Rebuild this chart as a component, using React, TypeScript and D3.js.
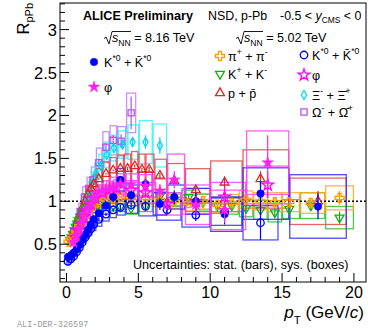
import React, { useEffect, useRef } from 'react';
import * as d3 from 'd3';

// pi+ + pi- (5.02 TeV)
const piPt = [0.15, 0.3, 0.5, 0.7, 0.9, 1.1, 1.3, 1.5, 1.7, 1.9, 2.25, 2.75, 3.25, 3.75, 4.5, 5.5, 6.5, 7.5, 8.5, 9.5, 10.5, 11.5, 12.5, 13.5, 14.5, 15.5, 17, 19];
const piVal = [0.53, 0.56, 0.6, 0.65, 0.71, 0.77, 0.83, 0.88, 0.92, 0.95, 0.99, 1.02, 1.04, 1.05, 1.05, 1.04, 1.02, 1.0, 0.98, 1.0, 0.96, 0.98, 1.02, 1.0, 0.99, 0.99, 0.98, 1.04];
const piStat = [0.01, 0.01, 0.01, 0.01, 0.01, 0.01, 0.01, 0.01, 0.01, 0.01, 0.01, 0.01, 0.01, 0.01, 0.01, 0.02, 0.02, 0.02, 0.03, 0.03, 0.03, 0.04, 0.04, 0.05, 0.05, 0.06, 0.06, 0.08];
const piSys = [0.04, 0.04, 0.04, 0.04, 0.05, 0.05, 0.05, 0.05, 0.05, 0.06, 0.06, 0.06, 0.07, 0.07, 0.07, 0.08, 0.08, 0.08, 0.09, 0.09, 0.09, 0.1, 0.1, 0.1, 0.11, 0.11, 0.12, 0.14];

// K+ + K- (5.02 TeV)
const kPt = [0.25, 0.35, 0.45, 0.55, 0.65, 0.75, 0.85, 0.95, 1.1, 1.3, 1.5, 1.7, 1.9, 2.25, 2.75, 3.25, 3.75, 4.5, 5.5, 6.5, 7.5, 8.5, 9.5, 10.5, 11.5, 12.5, 13.5, 14.5, 15.5, 17, 19];
const kVal = [0.55, 0.58, 0.62, 0.66, 0.7, 0.74, 0.78, 0.82, 0.87, 0.91, 0.94, 0.96, 0.97, 0.97, 0.96, 0.95, 0.94, 0.92, 0.95, 1.06, 1.02, 1.05, 0.99, 0.95, 0.95, 0.92, 0.9, 0.87, 0.91, 0.95, 0.81];
const kStat = [0.01, 0.01, 0.01, 0.01, 0.01, 0.01, 0.01, 0.01, 0.01, 0.01, 0.01, 0.01, 0.01, 0.01, 0.01, 0.01, 0.01, 0.02, 0.02, 0.02, 0.03, 0.03, 0.03, 0.04, 0.04, 0.04, 0.05, 0.05, 0.06, 0.06, 0.07];
const kSys = [0.05, 0.05, 0.05, 0.05, 0.05, 0.05, 0.05, 0.05, 0.06, 0.06, 0.06, 0.06, 0.06, 0.06, 0.06, 0.06, 0.06, 0.07, 0.07, 0.08, 0.08, 0.08, 0.09, 0.09, 0.1, 0.1, 0.11, 0.11, 0.11, 0.15, 0.13];

// p + pbar (5.02 TeV)
const pPt = [0.35, 0.45, 0.55, 0.65, 0.75, 0.85, 0.95, 1.1, 1.3, 1.5, 1.7, 1.9, 2.25, 2.75, 3.25, 3.75, 4.25, 4.75, 5.25, 5.75, 6.5, 7.5, 9, 11, 13.5, 17.5];
const pVal = [0.6, 0.63, 0.67, 0.71, 0.76, 0.8, 0.85, 0.92, 1.0, 1.08, 1.15, 1.2, 1.26, 1.32, 1.36, 1.38, 1.38, 1.41, 1.37, 1.37, 1.3, 1.24, 1.13, 1.22, 1.26, 1.0];
const pStat = [0.01, 0.01, 0.01, 0.01, 0.01, 0.01, 0.01, 0.01, 0.01, 0.01, 0.01, 0.01, 0.01, 0.01, 0.01, 0.01, 0.02, 0.02, 0.02, 0.03, 0.03, 0.04, 0.05, 0.07, 0.09, 0.12];
const pSys = [0.05, 0.05, 0.05, 0.05, 0.05, 0.05, 0.05, 0.07, 0.08, 0.09, 0.1, 0.11, 0.12, 0.14, 0.15, 0.16, 0.17, 0.17, 0.18, 0.18, 0.19, 0.2, 0.25, 0.25, 0.34, 0.27];

// K*0 (5.02 TeV)
const ks5Pt = [0.1, 0.3, 0.5, 0.7, 0.9, 1.1, 1.3, 1.5, 1.7, 1.9, 2.25, 2.75, 3.25, 3.75, 4.5, 5.5, 7, 9, 11, 13.5];
const ks5Val = [0.3, 0.33, 0.36, 0.41, 0.46, 0.52, 0.58, 0.63, 0.68, 0.73, 0.79, 0.85, 0.9, 0.93, 0.96, 0.94, 0.9, 0.84, 0.88, 0.75];
const ks5Stat = [0.01, 0.01, 0.01, 0.01, 0.01, 0.01, 0.01, 0.01, 0.01, 0.01, 0.02, 0.02, 0.02, 0.03, 0.03, 0.04, 0.05, 0.07, 0.1, 0.2];
const ks5Sys = [0.04, 0.04, 0.04, 0.05, 0.05, 0.05, 0.06, 0.06, 0.07, 0.07, 0.08, 0.08, 0.09, 0.09, 0.1, 0.11, 0.12, 0.14, 0.16, 0.2];

// K*0 (8.16 TeV)
const ks8Pt = [0.1, 0.3, 0.5, 0.7, 0.9, 1.1, 1.3, 1.5, 1.7, 1.9, 2.25, 2.75, 3.25, 3.75, 4.5, 5.5, 6.5, 7.5, 9, 11, 13.5, 17.5];
const ks8Val = [0.35, 0.37, 0.4, 0.44, 0.49, 0.55, 0.61, 0.67, 0.73, 0.79, 0.86, 0.95, 1.05, 1.25, 1.07, 1.2, 0.97, 1.05, 1.0, 0.85, 1.09, 0.94];
const ks8Stat = [0.01, 0.01, 0.01, 0.01, 0.01, 0.01, 0.01, 0.01, 0.01, 0.01, 0.02, 0.02, 0.03, 0.04, 0.05, 0.06, 0.07, 0.08, 0.1, 0.12, 0.15, 0.15];
const ks8Sys = [0.04, 0.04, 0.04, 0.05, 0.05, 0.06, 0.06, 0.07, 0.07, 0.08, 0.09, 0.1, 0.11, 0.13, 0.12, 0.14, 0.13, 0.14, 0.15, 0.2, 0.3, 0.37];

// phi (8.16 TeV)
const ph8Pt = [0.5, 0.7, 0.9, 1.1, 1.3, 1.5, 1.7, 1.9, 2.25, 2.75, 3.25, 3.75, 4.5, 5.5, 6.5, 7.5, 9, 11, 14];
const ph8Val = [0.52, 0.6, 0.68, 0.77, 0.85, 0.92, 0.98, 1.04, 1.1, 1.14, 1.17, 1.2, 1.2, 1.18, 1.12, 1.25, 0.96, 0.9, 1.45];
const ph8Stat = [0.01, 0.01, 0.01, 0.01, 0.01, 0.01, 0.01, 0.01, 0.02, 0.02, 0.03, 0.03, 0.04, 0.06, 0.08, 0.1, 0.1, 0.15, 0.32];
const ph8Sys = [0.04, 0.05, 0.05, 0.06, 0.06, 0.07, 0.08, 0.08, 0.09, 0.1, 0.11, 0.12, 0.12, 0.13, 0.14, 0.3, 0.23, 0.23, 0.37];

// phi (5.02 TeV)
const ph5Pt = [0.6, 0.8, 1.0, 1.2, 1.4, 1.7, 2.0, 2.5, 3.0, 3.5, 4.5, 5.5, 7, 9, 11, 14];
const ph5Val = [0.58, 0.66, 0.74, 0.82, 0.89, 0.97, 1.04, 1.1, 1.13, 1.15, 1.13, 1.1, 0.97, 1.0, 1.05, 1.19];
const ph5Stat = [0.01, 0.01, 0.01, 0.01, 0.01, 0.01, 0.02, 0.02, 0.02, 0.03, 0.04, 0.05, 0.07, 0.09, 0.12, 0.15];
const ph5Sys = [0.05, 0.05, 0.06, 0.06, 0.07, 0.08, 0.08, 0.09, 0.1, 0.1, 0.11, 0.12, 0.13, 0.15, 0.17, 0.22];

// Xi- + Xibar+ (5.02 TeV)
const xiPt = [0.8, 1.0, 1.2, 1.4, 1.6, 1.8, 2.05, 2.4, 2.8, 3.3, 3.9, 4.6, 5.5, 6.5];
const xiVal = [0.72, 0.82, 0.92, 1.02, 1.12, 1.22, 1.32, 1.41, 1.54, 1.62, 1.66, 1.69, 1.69, 1.65];
const xiStat = [0.02, 0.02, 0.02, 0.02, 0.02, 0.02, 0.02, 0.03, 0.03, 0.04, 0.05, 0.06, 0.08, 0.1];
const xiSys = [0.08, 0.09, 0.1, 0.1, 0.11, 0.12, 0.13, 0.14, 0.15, 0.15, 0.16, 0.2, 0.25, 0.25];

// Omega- + Omegabar+ (5.02 TeV)
const omPt = [0.7, 0.95, 1.25, 1.55, 1.85, 2.25, 2.75, 3.25, 3.8, 4.5];
const omVal = [0.72, 0.88, 1.05, 1.15, 1.25, 1.45, 1.63, 1.71, 1.7, 2.03];
const omStat = [0.03, 0.03, 0.03, 0.03, 0.04, 0.04, 0.05, 0.06, 0.08, 0.19];
const omSys = [0.08, 0.1, 0.12, 0.13, 0.15, 0.17, 0.18, 0.17, 0.17, 0.23];

const xTicks = [0, 5, 10, 15, 20];
const yTicks = [0.5, 1, 1.5, 2, 2.5, 3];

const FONT = '"Liberation Sans", Arial, Helvetica, sans-serif';

type Series = {
  pt: number[]; val: number[]; stat: number[]; sys: number[];
  color: string; boxColor: string; marker: string; filled: boolean;
};

const series: Series[] = [
  { pt: omPt, val: omVal, stat: omStat, sys: omSys, color: '#b650f0', boxColor: '#c27cf4', marker: 'square', filled: false },
  { pt: xiPt, val: xiVal, stat: xiStat, sys: xiSys, color: '#00d8f0', boxColor: '#3ef0f8', marker: 'diamond', filled: false },
  { pt: pPt, val: pVal, stat: pStat, sys: pSys, color: '#d82828', boxColor: '#e04a4a', marker: 'triUp', filled: false },
  { pt: kPt, val: kVal, stat: kStat, sys: kSys, color: '#10b010', boxColor: '#30c030', marker: 'triDown', filled: false },
  { pt: piPt, val: piVal, stat: piStat, sys: piSys, color: '#ff9900', boxColor: '#ffa626', marker: 'cross', filled: false },
  { pt: ks5Pt, val: ks5Val, stat: ks5Stat, sys: ks5Sys, color: '#0000ff', boxColor: '#3333ff', marker: 'circle', filled: false },
  { pt: ph5Pt, val: ph5Val, stat: ph5Stat, sys: ph5Sys, color: '#ff00ff', boxColor: '#ff40ff', marker: 'star', filled: false },
  { pt: ks8Pt, val: ks8Val, stat: ks8Stat, sys: ks8Sys, color: '#0000ff', boxColor: '#2a2aff', marker: 'circle', filled: true },
  { pt: ph8Pt, val: ph8Val, stat: ph8Stat, sys: ph8Sys, color: '#ff22ee', boxColor: '#ff44f0', marker: 'star', filled: true },
];

const markerPath = (m: string) => {
  if (m === 'diamond') return 'M0,-4.5L2.6,0L0,4.5L-2.6,0Z';
  if (m === 'circle') return d3.symbol(d3.symbolCircle, 44)() as string;
  if (m === 'star') return d3.symbol(d3.symbolStar, 42)() as string;
  if (m === 'cross') return d3.symbol(d3.symbolCross, 46)() as string;
  if (m === 'square') return d3.symbol(d3.symbolSquare, 38)() as string;
  return d3.symbol(d3.symbolTriangle, 34)() as string;
};

// rich text with sub/superscripts: [text, kind, italic]
type Part = [string, 'n' | 'sup' | 'sub', boolean?];
function rich(parent: any, x: number, y: number, parts: Part[], size: number, anchor = 'start') {
  const t = parent.append('text')
    .attr('x', x).attr('y', y)
    .attr('font-size', size)
    .attr('text-anchor', anchor)
    .style('white-space', 'pre');
  let cur = 0;
  parts.forEach(([s, kind, it]) => {
    const target = kind === 'sup' ? -size * 0.42 : kind === 'sub' ? size * 0.3 : 0;
    t.append('tspan')
      .attr('dy', target - cur)
      .attr('font-size', kind === 'n' ? size : size * 0.68)
      .attr('font-style', it ? 'italic' : null)
      .text(s);
    cur = target;
  });
  return t;
}

const App = () => {
  const ref = useRef<SVGSVGElement>(null);

  useEffect(() => {
    const width = 368;
    const height = 331;
    const margin = { top: 3, right: 2, bottom: 49, left: 60 };

    const svg = d3.select(ref.current);
    svg.selectAll('*').remove();
    svg.attr('width', width).attr('height', height).attr('font-family', FONT);

    svg.append('rect').attr('width', width).attr('height', height).attr('fill', '#fff');

    const x = d3.scaleLinear().domain([-0.45, 20.84]).range([margin.left, width - margin.right]);
    const y = d3.scaleLinear().domain([0.06, 3.31]).range([height - margin.bottom, margin.top]);

    const [x0, x1] = x.range();
    const [yb, yt] = y.range();

    svg.append('clipPath').attr('id', 'plotclip')
      .append('rect').attr('x', x0).attr('y', yt).attr('width', x1 - x0).attr('height', yb - yt);

    const plot = svg.append('g').attr('clip-path', 'url(#plotclip)');

    // bin edges from neighbouring points
    const edges = (pt: number[]) => pt.map((p, i) => {
      const lo = i > 0 ? (p + pt[i - 1]) / 2 : p - (pt[1] - p) / 2;
      const hi = i < pt.length - 1 ? (p + pt[i + 1]) / 2 : p + (p - pt[i - 1]) / 2;
      return [lo, hi];
    });

    // systematic boxes
    series.forEach(s => {
      const e = edges(s.pt);
      plot.append('g').selectAll('rect')
        .data(s.pt.map((p, i) => ({ lo: e[i][0], hi: e[i][1], v: s.val[i], sys: s.sys[i] })))
        .enter()
        .append('rect')
        .attr('x', d => x(d.lo) + 0.5)
        .attr('width', d => Math.max(1, x(d.hi) - x(d.lo) - 1))
        .attr('y', d => y(d.v + d.sys))
        .attr('height', d => y(d.v - d.sys) - y(d.v + d.sys))
        .attr('fill', 'none')
        .attr('stroke', s.boxColor)
        .attr('stroke-width', 1.3)
        .attr('opacity', 0.85);
    });

    // dotted line at unity
    plot.append('line')
      .attr('x1', x0).attr('x2', x1)
      .attr('y1', y(1)).attr('y2', y(1))
      .attr('stroke', '#000').attr('stroke-width', 1.5)
      .attr('stroke-dasharray', '2,2');

    // stat bars + markers
    series.forEach(s => {
      const pts = s.pt.map((p, i) => ({ p, v: s.val[i], st: s.stat[i] }));
      const g = plot.append('g');
      g.selectAll('line')
        .data(pts)
        .enter()
        .append('line')
        .attr('x1', d => x(d.p)).attr('x2', d => x(d.p))
        .attr('y1', d => y(d.v - d.st)).attr('y2', d => y(d.v + d.st))
        .attr('stroke', s.color).attr('stroke-width', 1.2);
      g.selectAll('path')
        .data(pts)
        .enter()
        .append('path')
        .attr('d', markerPath(s.marker))
        .attr('transform', d => `translate(${x(d.p)},${y(d.v)})${s.marker === 'triDown' ? ' rotate(180)' : ''}`)
        .attr('fill', s.filled ? s.color : 'none')
        .attr('stroke', s.color)
        .attr('stroke-width', s.filled ? 0.5 : 1.3);
    });

    // frame
    svg.append('rect')
      .attr('x', x0).attr('y', yt)
      .attr('width', x1 - x0).attr('height', yb - yt)
      .attr('fill', 'none').attr('stroke', '#000').attr('stroke-width', 1);

    // y ticks
    const yMinor = d3.range(1, 34).map(i => i / 10).filter(v => v < 3.31);
    svg.append('g').selectAll('line')
      .data(yMinor)
      .enter()
      .append('line')
      .attr('x1', x0)
      .attr('x2', v => x0 + (Math.abs(v * 2 - Math.round(v * 2)) < 1e-6 ? 9 : 5))
      .attr('y1', v => y(v)).attr('y2', v => y(v))
      .attr('stroke', '#000').attr('stroke-width', 1);

    svg.append('g').selectAll('text')
      .data(yTicks)
      .enter()
      .append('text')
      .attr('x', 57)
      .attr('y', v => y(v) + 6)
      .attr('text-anchor', 'end')
      .attr('font-size', 16.5)
      .text(v => String(v));

    // x ticks
    const xMinor = d3.range(0, 21);
    svg.append('g').selectAll('line')
      .data(xMinor)
      .enter()
      .append('line')
      .attr('x1', v => x(v)).attr('x2', v => x(v))
      .attr('y1', yb)
      .attr('y2', v => yb - (v % 5 === 0 ? 9 : 5))
      .attr('stroke', '#000').attr('stroke-width', 1);

    svg.append('g').selectAll('text')
      .data(xTicks)
      .enter()
      .append('text')
      .attr('x', v => x(v))
      .attr('y', 298)
      .attr('text-anchor', 'middle')
      .attr('font-size', 16)
      .text(v => String(v));

    // axis titles
    const xTitle = svg.append('text')
      .attr('x', 364).attr('y', 318)
      .attr('text-anchor', 'end')
      .attr('font-size', 17)
      .style('white-space', 'pre');
    xTitle.append('tspan').attr('font-style', 'italic').text('p');
    xTitle.append('tspan').attr('dy', 6).attr('font-size', 11.5).text('T');
    xTitle.append('tspan').attr('dy', -6).text(' (GeV/');
    xTitle.append('tspan').attr('font-style', 'italic').text('c');
    xTitle.append('tspan').text(')');

    const yTitle = svg.append('text')
      .attr('transform', 'translate(28.5,3) rotate(-90)')
      .attr('text-anchor', 'end')
      .attr('font-size', 16.5);
    yTitle.append('tspan').text('R');
    yTitle.append('tspan').attr('dy', 4).attr('font-size', 11).text('pPb');

    // header texts
    svg.append('text').attr('x', 83).attr('y', 19.5)
      .attr('font-size', 12.6).attr('font-weight', 'bold').text('ALICE Preliminary');
    svg.append('text').attr('x', 208).attr('y', 19.5)
      .attr('font-size', 12.4).text('NSD, p-Pb');
    rich(svg, 280, 19.5, [['-0.5 < ', 'n'], ['y', 'n', true], ['CMS', 'sub'], [' < 0', 'n']], 12.4);

    // sqrt(s_NN) labels
    const sqrtLabel = (sx: number, energy: string) => {
      svg.append('path')
        .attr('d', `M${sx},38.5 L${sx + 2},37 L${sx + 5},44 L${sx + 8},31.5 L${sx + 27},31.5`)
        .attr('fill', 'none').attr('stroke', '#000').attr('stroke-width', 0.9);
      rich(svg, sx + 8, 42, [['s', 'n', true], ['NN', 'sub'], [` = ${energy} TeV`, 'n']], 12.6);
    };
    sqrtLabel(104, '8.16');
    sqrtLabel(236, '5.02');

    // legend
    const legend = [
      { mx: 94, my: 62, s: series[7], parts: [['K', 'n'], ['*0', 'sup'], [' + K\u0304', 'n'], ['*0', 'sup']] as Part[] },
      { mx: 94, my: 87, s: series[8], parts: [['\u03c6', 'n']] as Part[] },
      { mx: 220, my: 56, s: series[4], parts: [['\u03c0', 'n'], ['+', 'sup'], [' + \u03c0', 'n'], ['-', 'sup']] as Part[] },
      { mx: 220, my: 74, s: series[3], parts: [['K', 'n'], ['+', 'sup'], [' + K', 'n'], ['-', 'sup']] as Part[] },
      { mx: 220, my: 93, s: series[2], parts: [['p + p\u0304', 'n']] as Part[] },
      { mx: 304, my: 55, s: series[5], parts: [['K', 'n'], ['*0', 'sup'], [' + K\u0304', 'n'], ['*0', 'sup']] as Part[] },
      { mx: 304, my: 75, s: series[6], parts: [['\u03c6', 'n']] as Part[] },
      { mx: 304, my: 95, s: series[1], parts: [['\u039e', 'n'], ['-', 'sup'], [' + \u039e\u0304', 'n'], ['+', 'sup']] as Part[] },
      { mx: 304, my: 112, s: series[0], parts: [['\u03a9', 'n'], ['-', 'sup'], [' + \u03a9\u0304', 'n'], ['+', 'sup']] as Part[] },
    ];
    legend.forEach(l => {
      svg.append('path')
        .attr('d', markerPath(l.s.marker))
        .attr('transform', `translate(${l.mx},${l.my})${l.s.marker === 'triDown' ? ' rotate(180)' : ''}`)
        .attr('fill', l.s.filled ? l.s.color : 'none')
        .attr('stroke', l.s.color)
        .attr('stroke-width', l.s.filled ? 0.5 : 1.3);
      rich(svg, l.mx + (l.mx === 94 ? 10 : 8), l.my + 4.5, l.parts, 12.6);
    });

    svg.append('text').attr('x', 133).attr('y', 269)
      .attr('font-size', 12.6).text('Uncertainties: stat. (bars), sys. (boxes)');

    svg.append('text').attr('x', 17).attr('y', 327)
      .attr('font-size', 8.5).attr('font-family', '"Liberation Mono", "DejaVu Sans Mono", monospace')
      .attr('fill', '#999').text('ALI-DER-326597');
  }, []);

  return <svg ref={ref} style={{ position: 'absolute', left: 0, top: 0 }} />;
};

export default App;
